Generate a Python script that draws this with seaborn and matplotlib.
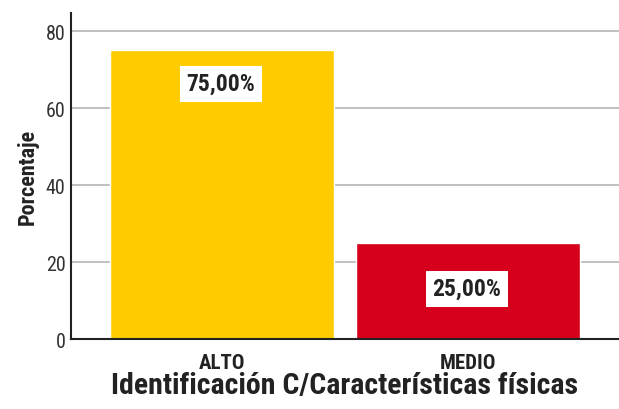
import matplotlib
matplotlib.use("Agg")
import matplotlib.pyplot as plt
from matplotlib import font_manager
import seaborn as sns
import pandas as pd

# data
categories = ["ALTO", "MEDIO"]
values = [75.0, 25.0]
labels = ["75,00%", "25,00%"]
colors = ["#FFCC00", "#D6001C"]
yticks = [0, 20, 40, 60, 80]

sns.set_theme(style="white")

# pick a condensed family if one is installed
names = {f.name for f in font_manager.fontManager.ttflist}
cands = ["Roboto Condensed", "Liberation Sans Narrow", "Archivo Narrow",
         "Barlow Condensed", "Open Sans Condensed"]
narrow = [n for n in cands if n in names]
plt.rcParams["font.family"] = narrow[:1] + ["DejaVu Sans"]

df = pd.DataFrame({"cat": categories, "val": values})

fig = plt.figure(figsize=(6.19, 4.10), dpi=100)
ax = fig.add_axes([0.1147, 0.1707, 0.8853, 0.7952])

sns.barplot(data=df, x="cat", y="val", hue="cat", palette=colors,
            width=0.91, saturation=1, legend=False, ax=ax, zorder=2)

ax.set_ylim(0, 84.7)
ax.set_xlim(-0.614, 1.614)
ax.set_yticks(yticks)
ax.yaxis.grid(True, color="#b5b5b5", linewidth=1.2, zorder=0)
ax.set_axisbelow(True)

ax.tick_params(axis="y", length=0, pad=4, labelsize=14.5, colors="#333333")
ax.tick_params(axis="x", length=0, pad=10, labelsize=15)
for t in ax.get_xticklabels():
    t.set_fontweight("bold")
    t.set_color("#222222")

for s in ["top", "right"]:
    ax.spines[s].set_visible(False)
for s in ["left", "bottom"]:
    ax.spines[s].set_color("#222222")
    ax.spines[s].set_linewidth(1.5)

ax.set_ylabel("Porcentaje", fontsize=16, fontweight="bold", color="#222222", labelpad=5)
ax.set_xlabel("Identificación C/Características físicas", fontsize=21.5,
              fontweight="bold", color="#222222", labelpad=-1)

# value labels inside white boxes
offsets = [-24, -33]
for i, (v, lab) in enumerate(zip(values, labels)):
    ax.annotate(lab, (i, v), xytext=(-1, offsets[i]), textcoords="offset points",
                ha="center", va="center", fontsize=17, fontweight="bold", color="#222222",
                bbox=dict(boxstyle="square,pad=0.28", fc="white", ec="none"), zorder=3)

fig.savefig("out.png", dpi=100)
